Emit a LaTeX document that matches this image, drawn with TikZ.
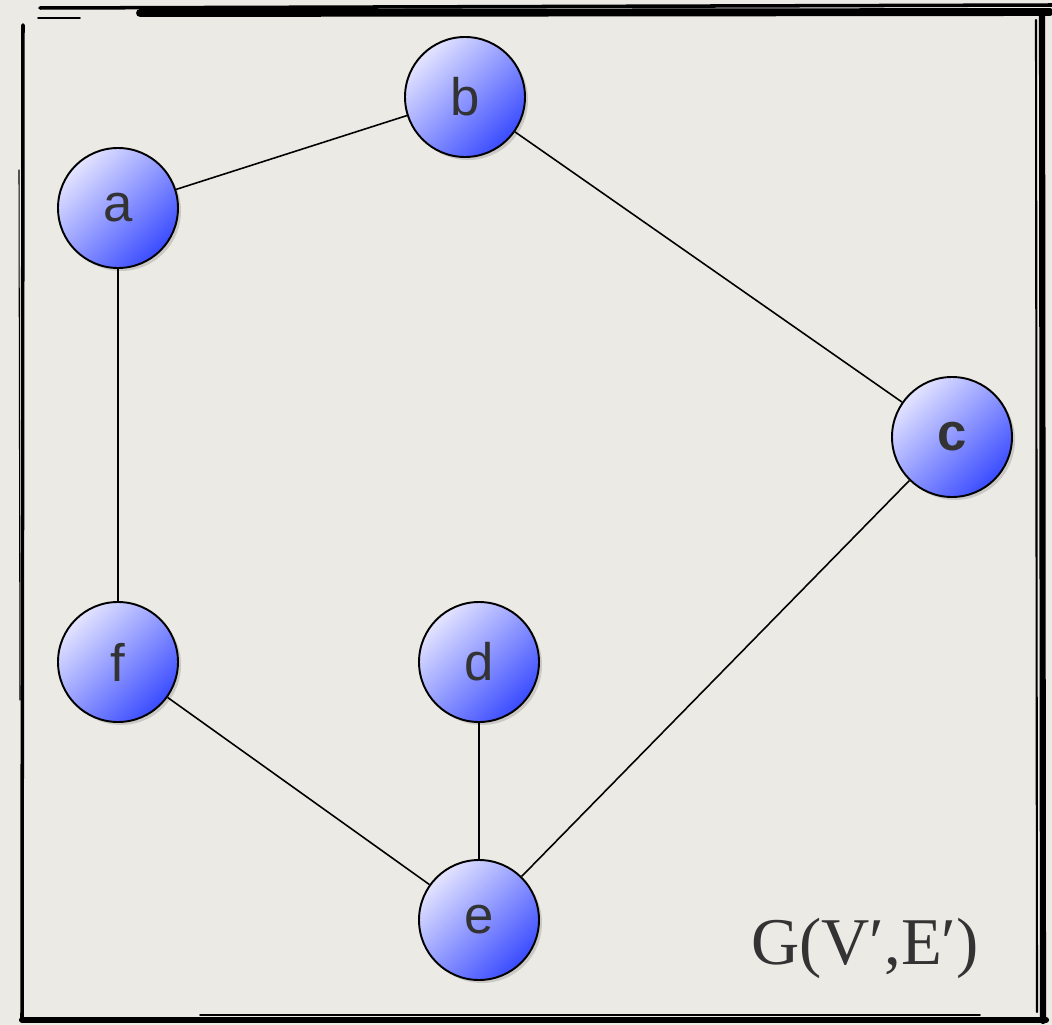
\documentclass[tikz,border=0pt]{standalone}
\usepackage{fontspec}
\setmainfont{Liberation Sans}
\newfontfamily\labelfont{Liberation Serif}
\usetikzlibrary{shadows}
\definecolor{paper}{HTML}{ECEAE5}
\definecolor{vtxlight}{HTML}{E4E4FF}
\definecolor{vtxdark}{HTML}{3A4CFF}
\definecolor{ink}{HTML}{333333}
\begin{document}
\begin{tikzpicture}[x=0.2mm,y=-0.2mm,
  vtx/.style={circle,draw=black,line width=1.1pt,minimum size=24mm,inner sep=0pt,
    top color=vtxlight,bottom color=vtxdark,shading angle=45,
    drop shadow={opacity=0.3,shadow xshift=0.6mm,shadow yshift=-0.6mm},
    text=ink,font=\fontsize{30}{34}\selectfont},
  link/.style={line width=0.9pt},
  rough/.style={line width=#1,line cap=round}]
% paper and frame
\fill[paper] (0,0) rectangle (1052,1025);
\useasboundingbox (0,0) rectangle (1052,1025);
\draw[rough=2pt] (40,8) -- (1052,5);
\draw[rough=4.5pt] (140,13) -- (1050,12);
\draw[rough=1pt] (38,18) -- (80,18);
\draw[rough=2pt] (23,25) -- (22,1020);
\draw[rough=0.6pt] (19,170) -- (20,700);
\draw[rough=3.5pt] (1042,12) -- (1043,1021);
\draw[rough=1.2pt] (1036,20) -- (1037,1012);
\draw[rough=3.5pt] (22,1020) -- (1046,1020);
\draw[rough=1pt] (200,1015) -- (980,1015);
% vertices
\node[vtx] (a) at (118,208) {a};
\node[vtx] (b) at (465,97) {b};
\node[vtx,font=\fontsize{30}{34}\selectfont\bfseries] (c) at (952,437) {c};
\node[vtx] (d) at (479,662) {d};
\node[vtx] (e) at (479,920) {e};
\node[vtx] (f) at (118,662) {f};
% edges
\draw[link] (a) -- (b);
\draw[link] (b) -- (c);
\draw[link] (a) -- (f);
\draw[link] (f) -- (e);
\draw[link] (d) -- (e);
\draw[link] (c) -- (e);
\node[text=ink,font=\labelfont\fontsize{38}{42}\selectfont] (title) at (865,948) {G(V′,E′)};
\end{tikzpicture}
\end{document}
